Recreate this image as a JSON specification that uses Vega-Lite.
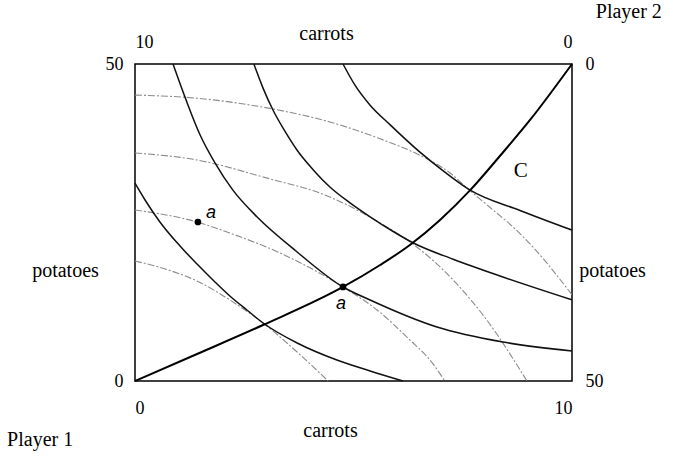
{
  "$schema": "https://vega.github.io/schema/vega-lite/v6.json",
  "width": 437,
  "height": 317,
  "autosize": {"type": "none"},
  "padding": {"left": 135, "top": 64, "right": 101, "bottom": 76},
  "background": "white",
  "config": {
    "view": {"stroke": "black", "strokeWidth": 1.5},
    "font": "Liberation Serif",
    "axis": {
      "domain": false, "ticks": false, "grid": false,
      "labelFont": "Liberation Serif", "labelFontSize": 18, "labelColor": "black",
      "titleFont": "Liberation Serif", "titleFontSize": 20, "titleFontWeight": "normal", "titleColor": "black"
    }
  },
  "datasets": {
    "player1": [
      {"curve": "G1", "carrots": 0, "potatoes": 45.1},
      {"curve": "G1", "carrots": 1.42, "potatoes": 44.6},
      {"curve": "G1", "carrots": 3.16, "potatoes": 42.9},
      {"curve": "G1", "carrots": 4.46, "potatoes": 40.85},
      {"curve": "G1", "carrots": 5.61, "potatoes": 38.2},
      {"curve": "G1", "carrots": 6.52, "potatoes": 35.6},
      {"curve": "G1", "carrots": 7.21, "potatoes": 32.8},
      {"curve": "G1", "carrots": 7.67, "potatoes": 30.0},
      {"curve": "G1", "carrots": 8.12, "potatoes": 27.4},
      {"curve": "G1", "carrots": 8.65, "potatoes": 24.3},
      {"curve": "G1", "carrots": 9.11, "potatoes": 21.1},
      {"curve": "G1", "carrots": 10, "potatoes": 13.6},
      {"curve": "G2", "carrots": 0, "potatoes": 35.96},
      {"curve": "G2", "carrots": 1.42, "potatoes": 34.86},
      {"curve": "G2", "carrots": 2.93, "potatoes": 32.18},
      {"curve": "G2", "carrots": 4.46, "potatoes": 29.02},
      {"curve": "G2", "carrots": 5.61, "potatoes": 24.92},
      {"curve": "G2", "carrots": 6.36, "potatoes": 21.61},
      {"curve": "G2", "carrots": 7.28, "potatoes": 15.93},
      {"curve": "G2", "carrots": 8.05, "potatoes": 9.62},
      {"curve": "G2", "carrots": 8.97, "potatoes": 0},
      {"curve": "G3", "carrots": 0, "potatoes": 26.97},
      {"curve": "G3", "carrots": 1.42, "potatoes": 25.08},
      {"curve": "G3", "carrots": 2.17, "potatoes": 23.34},
      {"curve": "G3", "carrots": 3.32, "potatoes": 20.19},
      {"curve": "G3", "carrots": 4.76, "potatoes": 14.83},
      {"curve": "G3", "carrots": 5.54, "potatoes": 11.2},
      {"curve": "G3", "carrots": 6.29, "potatoes": 6.47},
      {"curve": "G3", "carrots": 6.75, "potatoes": 3.31},
      {"curve": "G3", "carrots": 7.09, "potatoes": 0},
      {"curve": "G4", "carrots": 0, "potatoes": 18.93},
      {"curve": "G4", "carrots": 0.69, "potatoes": 17.67},
      {"curve": "G4", "carrots": 1.42, "potatoes": 15.77},
      {"curve": "G4", "carrots": 2.17, "potatoes": 12.78},
      {"curve": "G4", "carrots": 2.93, "potatoes": 9.15},
      {"curve": "G4", "carrots": 3.71, "potatoes": 4.57},
      {"curve": "G4", "carrots": 4.42, "potatoes": 0}
    ],
    "player2": [
      {"curve": "K2", "carrots": 4.76, "potatoes": 50},
      {"curve": "K2", "carrots": 5.03, "potatoes": 46.7},
      {"curve": "K2", "carrots": 5.38, "potatoes": 43.5},
      {"curve": "K2", "carrots": 5.84, "potatoes": 40.4},
      {"curve": "K2", "carrots": 6.52, "potatoes": 36.1},
      {"curve": "K2", "carrots": 7.09, "potatoes": 32.95},
      {"curve": "K2", "carrots": 7.67, "potatoes": 30.1},
      {"curve": "K2", "carrots": 8.81, "potatoes": 26.9},
      {"curve": "K2", "carrots": 10, "potatoes": 23.8},
      {"curve": "K1", "carrots": 2.72, "potatoes": 50},
      {"curve": "K1", "carrots": 2.93, "potatoes": 46.2},
      {"curve": "K1", "carrots": 3.16, "potatoes": 42.7},
      {"curve": "K1", "carrots": 3.43, "potatoes": 39.4},
      {"curve": "K1", "carrots": 3.71, "potatoes": 36.4},
      {"curve": "K1", "carrots": 4.08, "potatoes": 33.3},
      {"curve": "K1", "carrots": 4.46, "potatoes": 30.6},
      {"curve": "K1", "carrots": 4.92, "potatoes": 28.1},
      {"curve": "K1", "carrots": 5.38, "potatoes": 25.9},
      {"curve": "K1", "carrots": 5.88, "potatoes": 23.7},
      {"curve": "K1", "carrots": 6.36, "potatoes": 21.8},
      {"curve": "K1", "carrots": 7.28, "potatoes": 19.2},
      {"curve": "K1", "carrots": 8.42, "potatoes": 16.4},
      {"curve": "K1", "carrots": 10, "potatoes": 12.8},
      {"curve": "K0", "carrots": 0.87, "potatoes": 50},
      {"curve": "K0", "carrots": 1.17, "potatoes": 44.3},
      {"curve": "K0", "carrots": 1.49, "potatoes": 38.8},
      {"curve": "K0", "carrots": 1.83, "potatoes": 34.4},
      {"curve": "K0", "carrots": 2.24, "potatoes": 30.1},
      {"curve": "K0", "carrots": 2.79, "potatoes": 25.9},
      {"curve": "K0", "carrots": 3.71, "potatoes": 20.35},
      {"curve": "K0", "carrots": 4.76, "potatoes": 14.83},
      {"curve": "K0", "carrots": 5.38, "potatoes": 12.78},
      {"curve": "K0", "carrots": 6.91, "potatoes": 8.52},
      {"curve": "K0", "carrots": 8.42, "potatoes": 6.15},
      {"curve": "K0", "carrots": 10, "potatoes": 4.73},
      {"curve": "Km", "carrots": 0, "potatoes": 31.2},
      {"curve": "Km", "carrots": 0.23, "potatoes": 28.55},
      {"curve": "Km", "carrots": 0.57, "potatoes": 25.08},
      {"curve": "Km", "carrots": 1.03, "potatoes": 21.29},
      {"curve": "Km", "carrots": 1.42, "potatoes": 18.45},
      {"curve": "Km", "carrots": 1.83, "potatoes": 15.62},
      {"curve": "Km", "carrots": 2.17, "potatoes": 13.41},
      {"curve": "Km", "carrots": 2.56, "potatoes": 11.2},
      {"curve": "Km", "carrots": 2.93, "potatoes": 9.15},
      {"curve": "Km", "carrots": 3.71, "potatoes": 6.0},
      {"curve": "Km", "carrots": 4.62, "potatoes": 3.31},
      {"curve": "Km", "carrots": 5.38, "potatoes": 1.58},
      {"curve": "Km", "carrots": 6.13, "potatoes": 0}
    ],
    "contract": [
      {"carrots": 0, "potatoes": 0},
      {"carrots": 1.42, "potatoes": 4.26},
      {"carrots": 2.93, "potatoes": 8.83},
      {"carrots": 4.76, "potatoes": 14.83},
      {"carrots": 5.61, "potatoes": 18.3},
      {"carrots": 6.29, "potatoes": 21.45},
      {"carrots": 6.98, "potatoes": 25.4},
      {"carrots": 7.67, "potatoes": 30.1},
      {"carrots": 8.35, "potatoes": 35.49},
      {"carrots": 9.04, "potatoes": 41.17},
      {"carrots": 10, "potatoes": 50}
    ],
    "points": [
      {"where": "off", "carrots": 1.44, "potatoes": 25.08, "label": "a"},
      {"where": "on", "carrots": 4.76, "potatoes": 14.83, "label": "a"}
    ]
  },
  "resolve": {"axis": {"x": "independent", "y": "independent"}},
  "layer": [
    {
      "data": {"name": "player1"},
      "mark": {"type": "line", "interpolate": "monotone", "color": "#8c8c8c", "strokeWidth": 1.1, "strokeDash": [7, 2, 2, 2]},
      "encoding": {
        "x": {"field": "carrots", "type": "quantitative", "scale": {"domain": [0, 10], "nice": false, "zero": false},
          "axis": {"orient": "bottom", "values": [0, 10], "title": "carrots", "labelPadding": 18, "titleX": 195, "titleY": 49, "titleBaseline": "middle"}},
        "y": {"field": "potatoes", "type": "quantitative", "scale": {"domain": [0, 50], "nice": false, "zero": false},
          "axis": {"orient": "left", "values": [0, 50], "title": "potatoes", "labelPadding": 12, "titleAngle": 0, "titleX": -70, "titleY": 206, "titleAlign": "center", "titleBaseline": "middle"}},
        "detail": {"field": "curve"}
      }
    },
    {
      "data": {"name": "player2"},
      "mark": {"type": "line", "interpolate": "monotone", "color": "#111111", "strokeWidth": 1.5},
      "encoding": {
        "x": {"field": "carrots", "type": "quantitative",
          "axis": {"orient": "top", "values": [0, 10], "labelExpr": "'' + (10 - datum.value)", "title": "carrots", "labelPadding": 13, "titleX": 191, "titleY": -31, "titleBaseline": "middle"}},
        "y": {"field": "potatoes", "type": "quantitative",
          "axis": {"orient": "right", "values": [0, 50], "labelExpr": "'' + (50 - datum.value)", "title": "potatoes", "labelPadding": 13, "titleAngle": 0, "titleX": 40, "titleY": 206, "titleAlign": "center", "titleBaseline": "middle"}},
        "detail": {"field": "curve"}
      }
    },
    {
      "data": {"name": "contract"},
      "mark": {"type": "line", "interpolate": "monotone", "color": "black", "strokeWidth": 2},
      "encoding": {
        "x": {"field": "carrots", "type": "quantitative", "axis": null},
        "y": {"field": "potatoes", "type": "quantitative", "axis": null}
      }
    },
    {
      "data": {"name": "points"},
      "mark": {"type": "point", "filled": true, "color": "black", "size": 45, "opacity": 1},
      "encoding": {
        "x": {"field": "carrots", "type": "quantitative", "axis": null},
        "y": {"field": "potatoes", "type": "quantitative", "axis": null}
      }
    },
    {
      "data": {"name": "points"},
      "transform": [{"filter": "datum.where === 'off'"}],
      "mark": {"type": "text", "font": "Liberation Sans", "fontStyle": "italic", "fontSize": 18, "dx": 13, "dy": -9},
      "encoding": {
        "x": {"field": "carrots", "type": "quantitative", "axis": null},
        "y": {"field": "potatoes", "type": "quantitative", "axis": null},
        "text": {"field": "label"}
      }
    },
    {
      "data": {"name": "points"},
      "transform": [{"filter": "datum.where === 'on'"}],
      "mark": {"type": "text", "font": "Liberation Sans", "fontStyle": "italic", "fontSize": 18, "dx": -2, "dy": 17},
      "encoding": {
        "x": {"field": "carrots", "type": "quantitative", "axis": null},
        "y": {"field": "potatoes", "type": "quantitative", "axis": null},
        "text": {"field": "label"}
      }
    },
    {
      "data": {"values": [{}]},
      "mark": {"type": "text", "text": "C", "font": "Liberation Serif", "fontSize": 21},
      "encoding": {
        "x": {"datum": 8.83, "type": "quantitative", "axis": null},
        "y": {"datum": 33.1, "type": "quantitative", "axis": null}
      }
    },
    {
      "data": {"values": [{}]},
      "mark": {"type": "text", "text": "Player 1", "font": "Liberation Serif", "fontSize": 20},
      "encoding": {
        "x": {"datum": -2.17, "type": "quantitative", "axis": null},
        "y": {"datum": -9.3, "type": "quantitative", "axis": null}
      }
    },
    {
      "data": {"values": [{}]},
      "mark": {"type": "text", "text": "Player 2", "font": "Liberation Serif", "fontSize": 20},
      "encoding": {
        "x": {"datum": 11.3, "type": "quantitative", "axis": null},
        "y": {"datum": 58.2, "type": "quantitative", "axis": null}
      }
    }
  ]
}
